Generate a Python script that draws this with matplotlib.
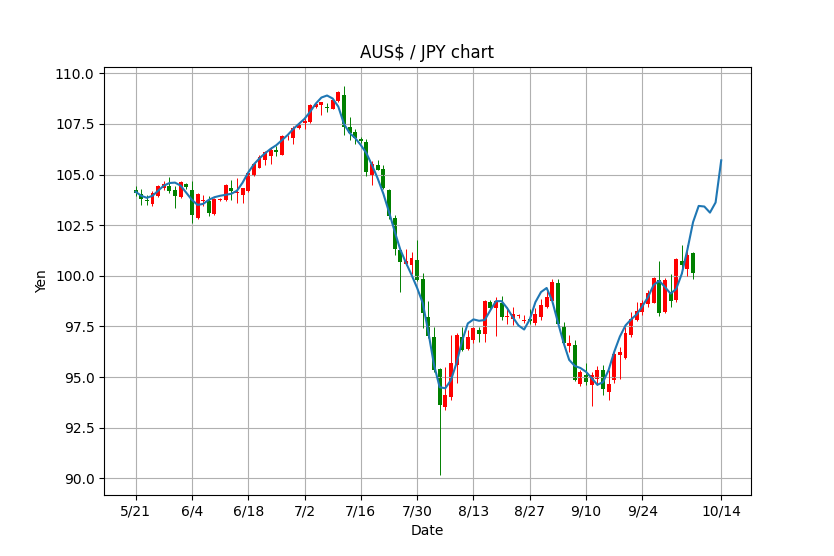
import numpy as np
import matplotlib
matplotlib.use('Agg')
import matplotlib.pyplot as plt

# OHLC, one candle per trading day starting 5/21
opens = [104.25, 104.06, 103.72, 103.56, 103.92, 104.34, 104.45, 104.22, 103.88, 104.55,
         104.25, 102.86, 103.70, 103.71, 103.07, 103.74, 103.73, 104.35, 104.10, 104.01,
         104.17, 104.99, 105.32, 105.73, 105.93, 106.22, 105.98, 106.84, 106.78, 107.29,
         107.52, 107.57, 108.31, 108.41, 108.32, 108.25, 108.63, 108.94, 107.34, 107.10,
         106.75, 106.60, 104.95, 105.45, 105.25, 104.26, 102.86, 101.29, 100.58, 100.54,
         100.79, 99.85, 97.99, 97.00, 95.38, 93.53, 94.03, 95.59, 97.00, 96.39,
         96.83, 97.33, 97.13, 98.71, 98.40, 98.68, 97.97, 97.85, 98.02, 97.78,
         97.86, 97.68, 97.97, 98.47, 98.76, 99.65, 97.51, 96.52, 96.57, 94.65,
         95.09, 94.60, 94.93, 95.34, 94.27, 94.84, 96.08, 95.96, 97.07, 97.80,
         98.23, 98.61, 98.68, 99.80, 98.23, 99.22, 98.81, 100.71, 100.33, 101.12]
highs = [104.45, 104.29, 104.01, 104.17, 104.50, 104.66, 104.88, 104.42, 104.70, 104.60,
         104.66, 104.10, 104.01, 103.92, 103.85, 103.85, 104.52, 104.71, 104.83, 104.33,
         105.10, 105.55, 105.98, 106.14, 106.35, 106.39, 106.93, 106.96, 107.41, 107.60,
         107.78, 108.48, 108.60, 108.60, 108.53, 108.72, 109.10, 109.36, 107.84, 107.26,
         106.85, 106.77, 105.69, 105.74, 105.45, 104.29, 103.00, 101.32, 101.30, 101.20,
         101.78, 100.12, 98.78, 97.49, 95.43, 95.48, 97.08, 97.16, 97.49, 97.33,
         97.49, 97.49, 98.81, 98.81, 98.94, 98.98, 98.48, 98.48, 98.12, 98.06,
         98.34, 98.43, 98.88, 99.26, 99.82, 99.82, 97.73, 97.07, 96.82, 95.34,
         95.70, 95.26, 95.54, 95.58, 95.34, 96.33, 96.49, 97.48, 98.22, 98.72,
         98.79, 99.31, 99.96, 100.71, 99.88, 100.10, 100.88, 101.53, 101.53, 101.20]
lows = [103.92, 103.48, 103.48, 103.43, 103.88, 104.22, 104.09, 103.35, 103.85, 104.30,
        102.61, 102.81, 103.43, 102.97, 103.02, 103.70, 103.70, 103.76, 103.60, 103.60,
        104.15, 104.95, 105.30, 105.48, 105.53, 105.89, 105.95, 106.72, 106.52, 107.27,
        107.24, 107.55, 108.28, 107.95, 108.09, 108.22, 108.60, 106.93, 106.68, 106.52,
        106.58, 104.95, 104.50, 105.20, 104.29, 102.81, 101.04, 99.18, 100.54, 100.10,
        99.72, 97.41, 96.92, 95.27, 90.15, 93.40, 93.89, 94.72, 96.30, 96.34,
        96.70, 96.75, 96.75, 98.32, 97.03, 97.82, 97.62, 97.57, 97.94, 97.68,
        97.64, 97.56, 97.84, 98.39, 98.71, 97.56, 96.62, 96.24, 94.81, 94.55,
        94.60, 93.56, 94.60, 94.10, 93.86, 94.71, 94.93, 95.91, 96.99, 97.77,
        98.07, 98.48, 98.65, 98.02, 98.18, 98.45, 98.73, 100.13, 100.00, 99.83]
closes = [104.09, 103.79, 103.69, 104.09, 104.45, 104.55, 104.20, 103.96, 104.65, 104.37,
          102.99, 104.06, 103.76, 103.10, 103.79, 103.80, 104.48, 104.17, 104.13, 104.32,
          105.07, 105.50, 105.85, 106.09, 106.19, 106.09, 106.91, 106.87, 107.29, 107.44,
          107.65, 108.44, 108.49, 108.56, 108.28, 108.70, 109.08, 107.34, 107.05, 106.82,
          106.63, 105.12, 105.53, 105.23, 104.34, 102.94, 101.32, 100.66, 100.71, 100.89,
          99.80, 98.15, 97.03, 95.35, 93.61, 94.11, 95.68, 97.08, 96.34, 97.00,
          97.41, 97.13, 98.78, 98.43, 98.76, 97.99, 98.01, 98.12, 98.05, 97.83,
          97.78, 98.11, 98.55, 98.93, 99.70, 97.61, 96.66, 96.66, 94.88, 95.26,
          94.76, 95.09, 95.37, 94.43, 94.68, 96.16, 96.24, 97.18, 97.89, 98.25,
          98.65, 99.14, 99.88, 98.15, 99.80, 98.78, 100.83, 100.51, 101.04, 100.13]

# smoothed / forecast line, runs a few days past the last candle
trend = [104.15, 103.95, 103.85, 103.95, 104.2, 104.45, 104.58, 104.6, 104.45, 104.1,
         103.75, 103.5, 103.55, 103.75, 103.88, 103.95, 104.0, 104.05, 104.2, 104.6,
         105.1, 105.5, 105.8, 106.05, 106.27, 106.45, 106.7, 106.95, 107.25, 107.5,
         107.75, 108.1, 108.5, 108.8, 108.9, 108.75, 108.35, 107.5, 107.05, 106.8,
         106.45, 106.05, 105.45, 104.8, 104.05, 103.15, 102.2, 101.3, 100.65, 100.05,
         99.4, 98.65, 97.2, 95.6, 94.5, 94.45, 94.85, 95.7, 96.8, 97.65,
         97.85, 97.78, 97.82, 98.3, 98.75, 98.75, 98.4, 97.95, 97.55, 97.35,
         97.85, 98.7, 99.2, 99.4, 98.75, 97.7, 96.7, 95.85, 95.55, 95.45,
         95.26, 94.95, 94.62, 94.75, 95.35, 96.25, 97.0, 97.55, 97.85, 98.1,
         98.5, 98.95, 99.55, 99.75, 99.45, 99.12, 99.35, 100.1, 101.3, 102.65,
         103.45, 103.42, 103.12, 103.62, 105.7]

tick_pos = [0, 10, 20, 30, 40, 50, 60, 70, 80, 90, 104]
tick_labels = ['5/21', '6/4', '6/18', '7/2', '7/16', '7/30', '8/13', '8/27', '9/10', '9/24', '10/14']

o = np.array(opens)
c = np.array(closes)
x = np.arange(len(o))
colors = ['r' if cc >= oo else 'g' for oo, cc in zip(o, c)]

fig, ax = plt.subplots(figsize=(8.34, 5.56), dpi=100)
ax.vlines(x, lows, highs, colors=colors, linewidth=0.7)
body = np.where(np.abs(c - o) < 0.02, 0.02, c - o)
ax.bar(x, body, bottom=o, width=0.7, color=colors)
ax.plot(np.arange(len(trend)), trend)

ax.set_xticks(tick_pos)
ax.set_xticklabels(tick_labels)
ax.grid(True)
ax.set_title('AUS$ / JPY chart')
ax.set_xlabel('Date')
ax.set_ylabel('Yen')
plt.savefig('out.png')
